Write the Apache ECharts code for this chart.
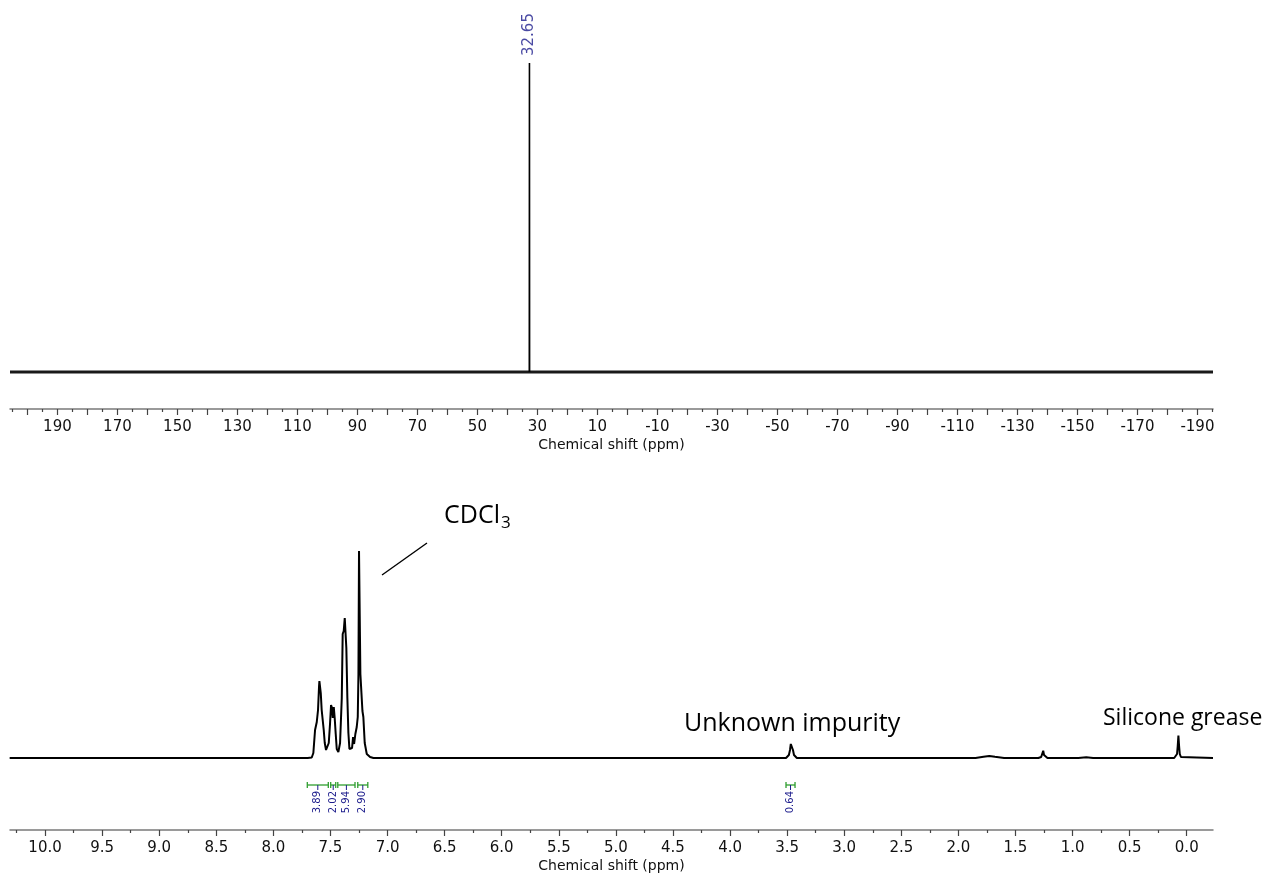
<!DOCTYPE html>
<html>
<head>
<meta charset="utf-8">
<script src="https://cdn.jsdelivr.net/npm/echarts@6/dist/echarts.min.js"></script>
<style>
  html, body { margin: 0; padding: 0; background: #ffffff; }
  #chart { width: 1268px; height: 882px; }
</style>
</head>
<body>
<div id="chart"></div>
<script>
// ---- Wide-range spectrum (top panel) ----
const wideTickLabels = [190, 170, 150, 130, 110, 90, 70, 50, 30, 10, -10, -30, -50, -70, -90, -110, -130, -150, -170, -190];
const wideBaseline = [[205.8, 0], [-195.2, 0]];
const widePeak = [[32.70, 0], [32.65, 309], [32.60, 0]];
const widePeakTop = [[32.65, 309, '32.65']];

// ---- 1H spectrum (bottom panel) ----
const protonTickLabels = [10.0, 9.5, 9.0, 8.5, 8.0, 7.5, 7.0, 6.5, 6.0, 5.5, 5.0, 4.5, 4.0, 3.5, 3.0, 2.5, 2.0, 1.5, 1.0, 0.5, 0.0];
const protonTrace = [
  [10.31, 0], [7.70, 0], [7.664, 0.5], [7.650, 5], [7.635, 28], [7.620, 36], [7.609, 48],
  [7.600, 72], [7.597, 77], [7.591, 76], [7.585, 65], [7.577, 48], [7.568, 47], [7.559, 28],
  [7.550, 15], [7.539, 8], [7.527, 8], [7.515, 15], [7.504, 34], [7.495, 53], [7.486, 50],
  [7.480, 40], [7.471, 51], [7.463, 40], [7.454, 24], [7.445, 9], [7.431, 6], [7.416, 15],
  [7.401, 60], [7.393, 124], [7.384, 127], [7.375, 140], [7.366, 139], [7.361, 110],
  [7.352, 60], [7.343, 25], [7.334, 9], [7.323, 7], [7.311, 10], [7.302, 21], [7.293, 14],
  [7.282, 24], [7.270, 31], [7.261, 41], [7.255, 84], [7.250, 207], [7.244, 209],
  [7.238, 84], [7.229, 86], [7.220, 47], [7.212, 41], [7.200, 15], [7.182, 4], [7.153, 1],
  [7.124, 0],
  [3.51, 0], [3.495, 1], [3.485, 3], [3.475, 8], [3.468, 14], [3.462, 15.5], [3.456, 14],
  [3.449, 8], [3.44, 3], [3.43, 1], [3.415, 0],
  [1.85, 0], [1.78, 1.2], [1.73, 2], [1.68, 1.2], [1.60, 0],
  [1.30, 0], [1.275, 1], [1.265, 3], [1.257, 7.3], [1.250, 3], [1.240, 1], [1.22, 0],
  [0.95, 0], [0.88, 0.8], [0.82, 0],
  [0.11, 0], [0.095, 1], [0.085, 4], [0.079, 12], [0.073, 22.5], [0.067, 12], [0.061, 4],
  [0.051, 1], [0.035, 0], [-0.23, 0]
];
// integral regions: [from ppm, to ppm, integral]
const protonIntegrals = [
  [7.703, 7.519, '3.89'],
  [7.498, 7.454, '2.02'],
  [7.436, 7.285, '5.94'],
  [7.261, 7.173, '2.90'],
  [3.510, 3.431, '0.64']
];

const LABEL_BLUE = '#1c1c8c';
const INTEGRAL_GREEN = '#2f9e2f';
const AXIS_FONT = '"DejaVu Sans", Verdana, sans-serif';
const NOTE_FONT = '"Open Sans", "Noto Sans", sans-serif';

function stepTicks(from, to, step) {
  const out = [];
  const n = Math.round((from - to) / step);
  for (let i = 0; i <= n; i++) out.push(+(from - i * step).toFixed(4));
  return out;
}

const wideMajor = stepTicks(200, -190, 10);
const wideMinor = stepTicks(205, -195, 10);
const protonMajor = stepTicks(10, 0, 0.5);
const protonMinor = stepTicks(10.25, -0.25, 0.5);

function mainAxis(grid, min, max, labels, major, fmt) {
  return {
    gridIndex: grid, type: 'value', min: min, max: max, inverse: true, position: 'bottom',
    name: 'Chemical shift (ppm)', nameLocation: 'middle', nameGap: 29,
    nameTextStyle: { fontFamily: AXIS_FONT, fontSize: 14, color: '#111' },
    axisLine: { show: true, onZero: false, lineStyle: { color: '#7a7a7a', width: 1.5 } },
    axisTick: { show: true, inside: false, customValues: major, length: 6, lineStyle: { color: '#444', width: 1.2 } },
    axisLabel: {
      show: true, customValues: labels, margin: 11,
      fontFamily: AXIS_FONT, fontSize: 15, color: '#111', formatter: fmt
    },
    splitLine: { show: false }
  };
}
function minorAxis(grid, min, max, minor) {
  return {
    gridIndex: grid, type: 'value', min: min, max: max, inverse: true, position: 'bottom', offset: 0,
    axisLine: { show: false, onZero: false },
    axisTick: { show: true, inside: false, customValues: minor, length: 3, lineStyle: { color: '#444', width: 1.2 } },
    axisLabel: { show: false },
    splitLine: { show: false }
  };
}

const chart = echarts.init(document.getElementById('chart'), null, { renderer: 'canvas' });

chart.setOption({
  animation: false,
  backgroundColor: '#ffffff',
  grid: [
    { left: 10, right: 55, top: 63, height: 346 },
    { left: 10, right: 55, top: 549, height: 281 }
  ],
  xAxis: [
    mainAxis(0, -195.2, 205.8, wideTickLabels, wideMajor, v => String(v)),
    minorAxis(0, -195.2, 205.8, wideMinor),
    mainAxis(1, -0.23, 10.307, protonTickLabels, protonMajor, v => Number(v).toFixed(1)),
    minorAxis(1, -0.23, 10.307, protonMinor)
  ],
  yAxis: [
    { gridIndex: 0, type: 'value', min: -37, max: 309, show: false },
    { gridIndex: 1, type: 'value', min: -72, max: 209, show: false }
  ],
  series: [
    {
      type: 'line', xAxisIndex: 0, yAxisIndex: 0, data: wideBaseline,
      symbol: 'none', lineStyle: { color: '#1a1a1a', width: 3.2 }, silent: true
    },
    {
      type: 'line', xAxisIndex: 0, yAxisIndex: 0, data: widePeak,
      symbol: 'none', silent: true, lineStyle: { color: '#000', width: 1.6 }
    },
    {
      type: 'scatter', xAxisIndex: 0, yAxisIndex: 0, data: widePeakTop,
      symbolSize: 0, silent: true,
      label: {
        show: true, position: 'top', distance: 7, rotate: 90,
        align: 'left', verticalAlign: 'middle',
        formatter: p => p.value[2], color: LABEL_BLUE,
        fontFamily: AXIS_FONT, fontSize: 15
      }
    },
    {
      type: 'line', xAxisIndex: 2, yAxisIndex: 1, data: protonTrace,
      symbol: 'none', silent: true, lineStyle: { color: '#000', width: 2 }
    },
    {
      type: 'custom', xAxisIndex: 2, yAxisIndex: 1, silent: true, clip: false,
      data: protonIntegrals,
      renderItem: function (params, api) {
        const a = api.coord([api.value(0), -27]);
        const b = api.coord([api.value(1), -27]);
        const cx = (a[0] + b[0]) / 2;
        const y = a[1];
        const green = { stroke: INTEGRAL_GREEN, lineWidth: 1.3 };
        return {
          type: 'group',
          children: [
            { type: 'line', shape: { x1: a[0], y1: y, x2: b[0], y2: y }, style: green },
            { type: 'line', shape: { x1: a[0], y1: y - 3, x2: a[0], y2: y + 3 }, style: green },
            { type: 'line', shape: { x1: b[0], y1: y - 3, x2: b[0], y2: y + 3 }, style: green },
            { type: 'line', shape: { x1: cx, y1: y, x2: cx, y2: y + 5 }, style: { stroke: LABEL_BLUE, lineWidth: 1 } },
            {
              type: 'text', x: cx, y: y + 6, rotation: Math.PI / 2,
              style: {
                text: protonIntegrals[params.dataIndex][2], fill: LABEL_BLUE,
                font: '10px ' + AXIS_FONT, align: 'right', verticalAlign: 'middle'
              }
            }
          ]
        };
      }
    }
  ],
  graphic: [
    {
      type: 'text', left: 444, top: 503,
      style: {
        text: 'CDCl{sub|3}', fill: '#000', font: '25px ' + NOTE_FONT,
        rich: { sub: { fontSize: 17, fontFamily: NOTE_FONT, fill: '#000', padding: [15, 0, 0, 1] } }
      }
    },
    {
      type: 'line', shape: { x1: 382, y1: 575, x2: 427, y2: 543 },
      style: { stroke: '#000', lineWidth: 1.4 }
    },
    {
      type: 'text', left: 684, top: 711,
      style: { text: 'Unknown impurity', fill: '#000', font: '25px ' + NOTE_FONT }
    },
    {
      type: 'text', left: 1103, top: 707,
      style: { text: 'Silicone grease', fill: '#000', font: '23px ' + NOTE_FONT }
    }
  ]
});
</script>
</body>
</html>
